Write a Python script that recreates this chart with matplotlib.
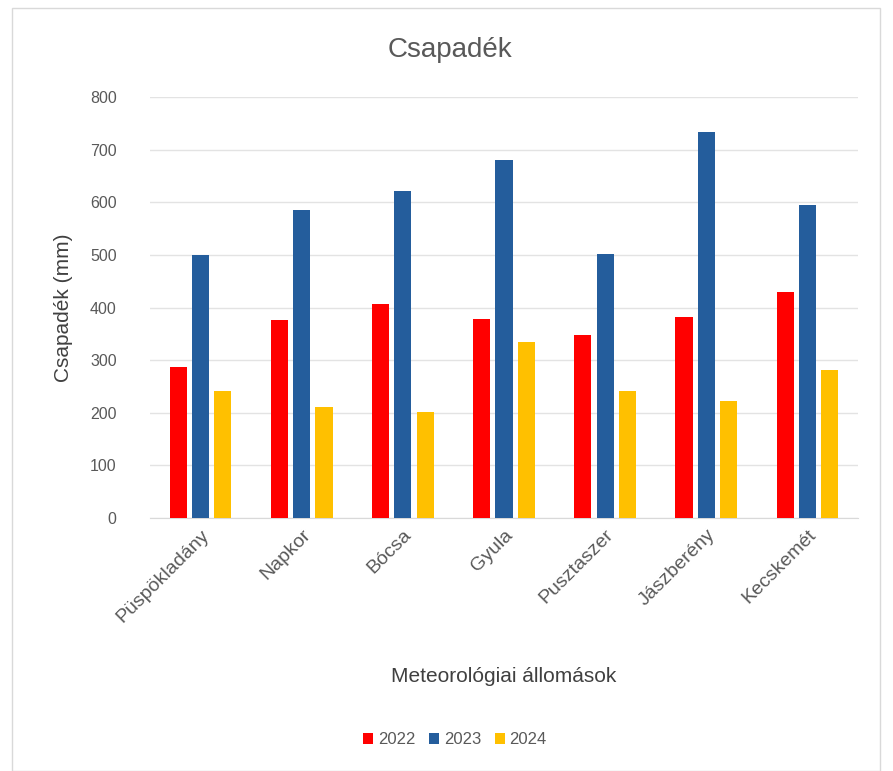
import numpy as np
import matplotlib.pyplot as plt
from matplotlib.patches import Rectangle

plt.rcParams['font.family'] = ['Liberation Sans', 'DejaVu Sans']

stations = ["Püspökladány", "Napkor", "Bócsa", "Gyula", "Pusztaszer", "Jászberény", "Kecskemét"]
years = ["2022", "2023", "2024"]
v2022 = [286, 376, 406, 378, 348, 381, 430]
v2023 = [500, 585, 622, 680, 502, 734, 595]
v2024 = [242, 210, 202, 334, 242, 223, 281]
colors = ["#ff0000", "#245d9c", "#ffc000"]

fig = plt.figure(figsize=(8.93, 7.71), dpi=100)
fig.patches.append(Rectangle((12 / 893, 0), 868 / 893, 1 - 8 / 771, transform=fig.transFigure,
                             fill=False, edgecolor="#d9d9d9", lw=1))
ax = fig.add_axes([150 / 893, 1 - 518 / 771, 708 / 893, 421 / 771])

x = np.arange(len(stations))
w = 0.17
step = 0.22
for i, (vals, yr) in enumerate(zip([v2022, v2023, v2024], years)):
    ax.bar(x + (i - 1) * step, vals, width=w, color=colors[i], label=yr, zorder=3)

ax.set_xlim(-0.5, len(stations) - 0.5)
ax.set_ylim(0, 800)
ax.set_yticks(range(0, 801, 100))
ax.grid(axis="y", color="#e3e3e3", lw=1, zorder=0)
for s in ["top", "right", "left"]:
    ax.spines[s].set_visible(False)
ax.spines["bottom"].set_color("#d9d9d9")
ax.tick_params(axis="both", length=0, colors="#595959", labelsize=11.5)
ax.tick_params(axis="y", pad=24)
ax.tick_params(axis="x", pad=6)
ax.set_xticks(x)
ax.set_xticklabels(stations, rotation=45, ha="right", rotation_mode="anchor", fontsize=14)

fig.text(450 / 893, 1 - 50 / 771, "Csapadék", fontsize=20, color="#595959", ha="center", va="center")
ax.set_ylabel("Csapadék (mm)", fontsize=15, color="#404040", labelpad=12)
ax.set_xlabel("Meteorológiai állomások", fontsize=15, color="#404040", labelpad=30)

fig.legend(loc="center", bbox_to_anchor=(455 / 893, 1 - 740 / 771), ncol=3, frameon=False,
           fontsize=12, handlelength=0.6, handleheight=0.6, handletextpad=0.3, columnspacing=0.8,
           labelcolor="#595959")

fig.savefig("out.png", dpi=100)
